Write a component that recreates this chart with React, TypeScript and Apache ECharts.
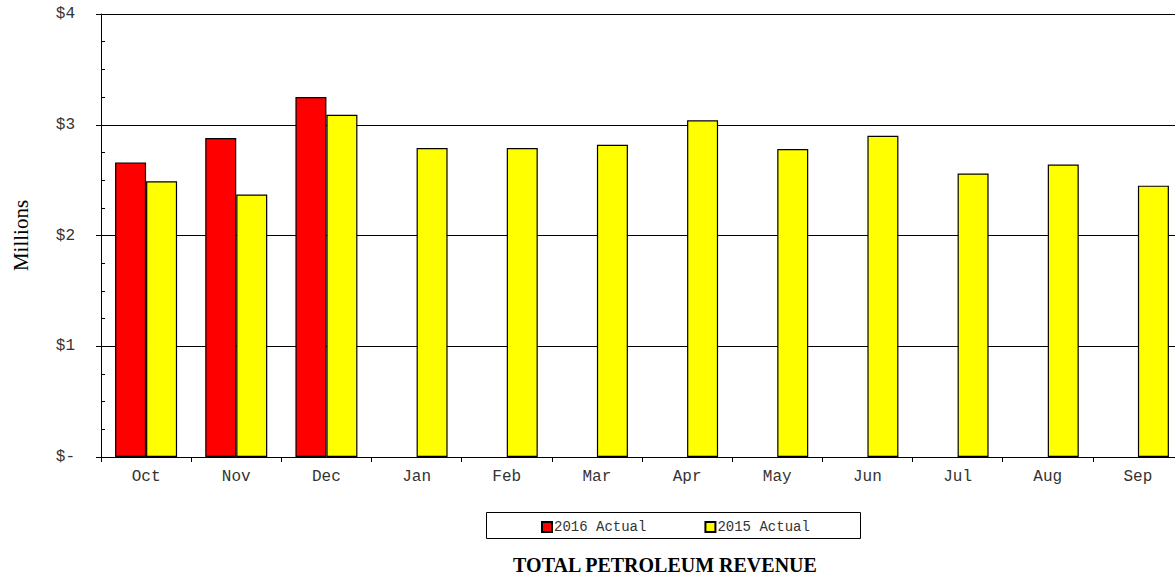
import React, { useEffect, useRef } from "react";
import * as echarts from "echarts";

const months = ["Oct", "Nov", "Dec", "Jan", "Feb", "Mar", "Apr", "May", "Jun", "Jul", "Aug", "Sep"];
const actual2016 = [2.66, 2.88, 3.25, null, null, null, null, null, null, null, null, null];
const actual2015 = [2.49, 2.37, 3.09, 2.79, 2.79, 2.82, 3.04, 2.78, 2.9, 2.56, 2.64, 2.45];
const seriesNames = ["2016 Actual", "2015 Actual"];
const yTickLabels: Record<number, string> = { 0: "$-", 1: "$1", 2: "$2", 3: "$3", 4: "$4" };
const chartTitle = "TOTAL PETROLEUM REVENUE";

export default function App() {
  const ref = useRef<HTMLDivElement>(null);
  useEffect(() => {
    if (!ref.current) return;
    const chart = echarts.init(ref.current, undefined, { renderer: "svg" });
    const mono = "'Liberation Mono', 'Courier New', monospace";
    const serif = "'Liberation Serif', 'Times New Roman', serif";
    chart.setOption({
      animation: false,
      grid: { left: 101, right: 0, top: 14, bottom: 119 },
      legend: {
        data: seriesNames,
        left: 536,
        top: 515,
        icon: "rect",
        itemWidth: 10,
        itemHeight: 10,
        itemGap: 58,
        textStyle: { fontFamily: mono, fontSize: 14, color: "#333", padding: [0, 0, 0, -3] },
      },
      graphic: [
        {
          type: "rect",
          shape: { x: 486.5, y: 512.5, width: 374, height: 26 },
          style: { fill: "none", stroke: "#000", lineWidth: 1 },
          z: -1,
        },
        {
          type: "text",
          style: {
            text: chartTitle,
            x: 665,
            y: 565,
            align: "center",
            verticalAlign: "middle",
            font: "bold 20px " + serif,
            fill: "#000",
          },
        },
      ],
      xAxis: {
        type: "category",
        data: months,
        axisLine: { lineStyle: { color: "#000", width: 1 } },
        axisTick: { show: true, length: 5, lineStyle: { color: "#000" } },
        axisLabel: { fontFamily: mono, fontSize: 16, color: "#333", margin: 12 },
      },
      yAxis: {
        type: "value",
        min: 0,
        max: 4,
        interval: 1,
        name: "Millions",
        nameLocation: "middle",
        nameGap: 70,
        nameTextStyle: { fontFamily: serif, fontSize: 21, color: "#000" },
        axisLine: { show: true, lineStyle: { color: "#000", width: 1 } },
        axisTick: { show: true, length: 5, lineStyle: { color: "#000" } },
        minorTick: { show: true, splitNumber: 4, length: -4, lineStyle: { color: "#000" } },
        splitLine: { show: true, lineStyle: { color: "#000", width: 1 } },
        axisLabel: {
          fontFamily: mono,
          fontSize: 16,
          color: "#333",
          margin: 26,
          formatter: (v: number) => yTickLabels[v] ?? "",
        },
      },
      series: [
        {
          name: seriesNames[0],
          type: "bar",
          data: actual2016,
          barWidth: 31,
          barGap: "0%",
          itemStyle: { color: "#ff0000", borderColor: "#000", borderWidth: 1.2 },
        },
        {
          name: seriesNames[1],
          type: "bar",
          data: actual2015,
          barWidth: 31,
          barGap: "0%",
          itemStyle: { color: "#ffff00", borderColor: "#000", borderWidth: 1.2 },
        },
      ],
    });
    return () => chart.dispose();
  }, []);
  return (
    <div style={{ position: "absolute", left: 0, top: 0, width: 1175, height: 576, overflow: "hidden" }}>
      <div ref={ref} style={{ width: 1183, height: 576 }} />
    </div>
  );
}
